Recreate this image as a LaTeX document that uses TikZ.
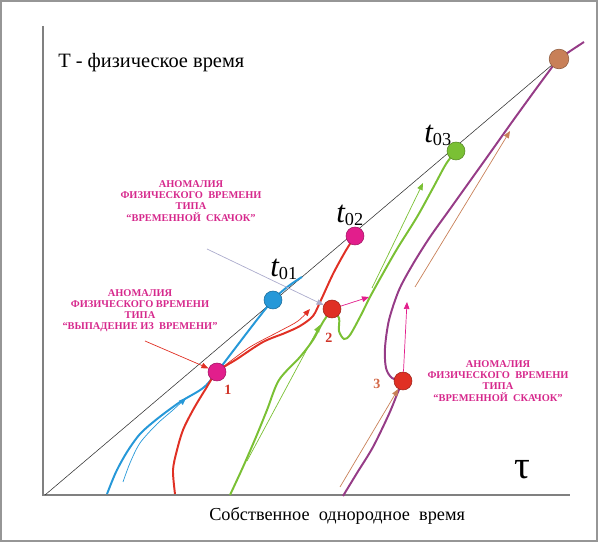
\documentclass[tikz,border=0pt]{standalone}
\usepackage{fontspec}
\setmainfont{Liberation Serif}
\usetikzlibrary{arrows.meta}

\definecolor{framegray}{RGB}{150,150,150}
\definecolor{axisgray}{RGB}{128,128,128}
\definecolor{ptblue}{RGB}{38,152,216}
\definecolor{ptred}{RGB}{224,48,36}
\definecolor{ptgreen}{RGB}{122,192,52}
\definecolor{ptpurple}{RGB}{150,60,135}
\definecolor{ptmag}{RGB}{226,30,140}
\definecolor{ptbrown}{RGB}{200,128,88}
\definecolor{labelmag}{RGB}{214,40,140}
\definecolor{numred}{RGB}{208,52,40}
\definecolor{grayarrow}{RGB}{172,172,205}

\tikzset{
  curve/.style={line width=1.4pt},
  thinarrow/.style={line width=0.5pt,-{Triangle[length=5pt,width=4pt]}},
  dot/.style={circle,inner sep=0pt,minimum size=12.8pt,draw=#1!70!black,
    fill=#1,line width=0.4pt},
  anomaly/.style={text=labelmag,align=center,inner sep=0pt,
    font=\fontsize{7.4}{7.9}\selectfont\bfseries},
  tlabel/.style={anchor=base west,inner sep=0pt,
    font=\fontsize{22}{24}\selectfont\itshape},
  numlabel/.style={font=\fontsize{10}{12}\selectfont\bfseries}
}
\newcommand{\tsub}[1]{t\raisebox{-1.5pt}{\fontsize{13}{15}\selectfont\upshape #1}}

\begin{document}
\begin{tikzpicture}[x=0.025cm,y=-0.025cm]
  \useasboundingbox (0,0) rectangle (600,543);
  % the frame
  \draw[framegray,line width=0.9pt] (1,1) rectangle (597,541);

  % points on the world lines
  \coordinate (o) at (45,495);
  \coordinate (c1) at (217,372);
  \coordinate (c2) at (332,309);
  \coordinate (c3) at (403,381);
  \coordinate (c01) at (273,300);
  \coordinate (c02) at (355,236);
  \coordinate (c03) at (456,151);
  \coordinate (cend) at (559,59);

  % the axes
  \draw[axisgray,line width=1.1pt] (43,26) coordinate (y axis) -- (43,495)
    -- (570,495) coordinate (x axis);
  % the diagonal T = tau
  \draw[line width=0.4pt,black!80] (o) -- (cend);

  % the blue line
  \draw[curve,ptblue] plot[smooth] coordinates {(107,494) (116,472)
    (127,452) (140,434) (157,419) (180,402) (203,388) (c1) (c01) (302,277)};
  % the red line
  \draw[curve,ptred] plot[smooth] coordinates {(175,494) (173,470)
    (177,450) (183,430) (193,410) (205,390) (c1) (237,359) (263,342)
    (285,333) (300,326) (313,316) (321,300) (333,274) (345,252) (c02)};
  % the green line
  \draw[curve,ptgreen] plot[smooth] coordinates {(230,495) (243,467)
    (256,437) (267,410) (279,380) (300,357) (313,340) (323,322) (c2)};
  \draw[curve,ptgreen] plot[smooth] coordinates {(c2) (339,318) (339,331)
    (344,339) (350,335) (360,317) (370,297) (381,277) (397,249) (417,217)
    (433,188) (446,164) (c03)};
  % the purple line
  \draw[curve,ptpurple] plot[smooth] coordinates {(343,496) (357,473)
    (373,447) (389,414) (398,392) (c3)};
  \draw[curve,ptpurple] plot[smooth] coordinates {(c3) (392,378) (386,368)
    (385,348) (389,320) (399,290) (413,264) (430,237) (450,209) (470,181)
    (490,153) (512,122) (533,93) (550,70) (cend) (584,42)};

  % the points
  \node[dot=ptmag] (p1) at (c1) {};
  \node[dot=ptred] (p2) at (c2) {};
  \node[dot=ptred] (p3) at (c3) {};
  \node[dot=ptblue] (t01) at (c01) {};
  \node[dot=ptmag] (t02) at (c02) {};
  \node[dot=ptgreen] (t03) at (c03) {};
  \node[dot=ptbrown,minimum size=14pt] (tend) at (cend) {};

  % thin arrows along the lines
  \coordinate (bluetip) at (186,398);
  \draw[thinarrow,ptblue] plot[smooth] coordinates {(123,482) (130,463)
    (140,443) (157,424) (173,410) (bluetip)};
  \coordinate (redtip) at (310,309);
  \draw[thinarrow,ptred] plot[smooth] coordinates {(p1.40) (250,347)
    (280,331) (298,321) (redtip)};
  \coordinate (greenlow) at (247,461);
  \coordinate (greenlowtip) at (320,325);
  \draw[thinarrow,ptgreen] (greenlow) -- (greenlowtip);
  \coordinate (greenup) at (372,288);
  \coordinate (greenuptip) at (423,183);
  \draw[thinarrow,ptgreen] (greenup) -- (greenuptip);
  \coordinate (brownlow) at (340,487);
  \draw[thinarrow,ptbrown] (brownlow) -- (p3);
  \coordinate (brownup) at (415,287);
  \coordinate (brownuptip) at (510,131);
  \draw[thinarrow,ptbrown] (brownup) -- (brownuptip);
  % jumps
  \coordinate (greenhit) at (369,297);
  \draw[thinarrow,ptmag] (p2) -- (greenhit);
  \coordinate (purplehit) at (407,302);
  \draw[thinarrow,ptmag] (p3) -- (purplehit);

  % the anomaly labels
  \node[anomaly] (jumpA) at (191,201) {АНОМАЛИЯ\\ФИЗИЧЕСКОГО\ \ ВРЕМЕНИ\\ТИПА\\“ВРЕМЕННОЙ\ \ СКАЧОК”};
  \node[anomaly] (dropB) at (140,311) {АНОМАЛИЯ\\ФИЗИЧЕСКОГО ВРЕМЕНИ\\ТИПА\\“ВЫПАДЕНИЕ ИЗ\ \ ВРЕМЕНИ”};
  \node[anomaly] (jumpC) at (498,381) {АНОМАЛИЯ\\ФИЗИЧЕСКОГО\ \ ВРЕМЕНИ\\ТИПА\\“ВРЕМЕННОЙ\ \ СКАЧОК”};
  \coordinate (fromA) at (207,249);
  \draw[thinarrow,grayarrow] (fromA) -- (p2);
  \coordinate (fromB) at (145,341);
  \draw[thinarrow,ptred] (fromB) -- (p1);

  % labels of the points
  \node[numlabel,text=numred] (n1) at (228,390) {1};
  \node[numlabel,text=numred] (n2) at (329,338) {2};
  \node[numlabel,text=ptbrown!80!red] (n3) at (377,384) {3};
  \node[tlabel] (lt01) at (270,277) {\tsub{01}};
  \node[tlabel] (lt02) at (336,223) {\tsub{02}};
  \node[tlabel] (lt03) at (424,143) {\tsub{03}};

  % labels for the axes
  \node[anchor=base west,inner sep=0pt,font=\fontsize{14.5}{16}\selectfont]
    (ylabel) at (58,68) {T - физическое время};
  \node[anchor=base west,inner sep=0pt,font=\fontsize{13}{15}\selectfont]
    (xlabel) at (209,521) {Собственное\ \ однородное\ \ время};
  \node[font=\fontsize{28}{30}\selectfont] (tau) at (522,470) {τ};
\end{tikzpicture}
\end{document}
